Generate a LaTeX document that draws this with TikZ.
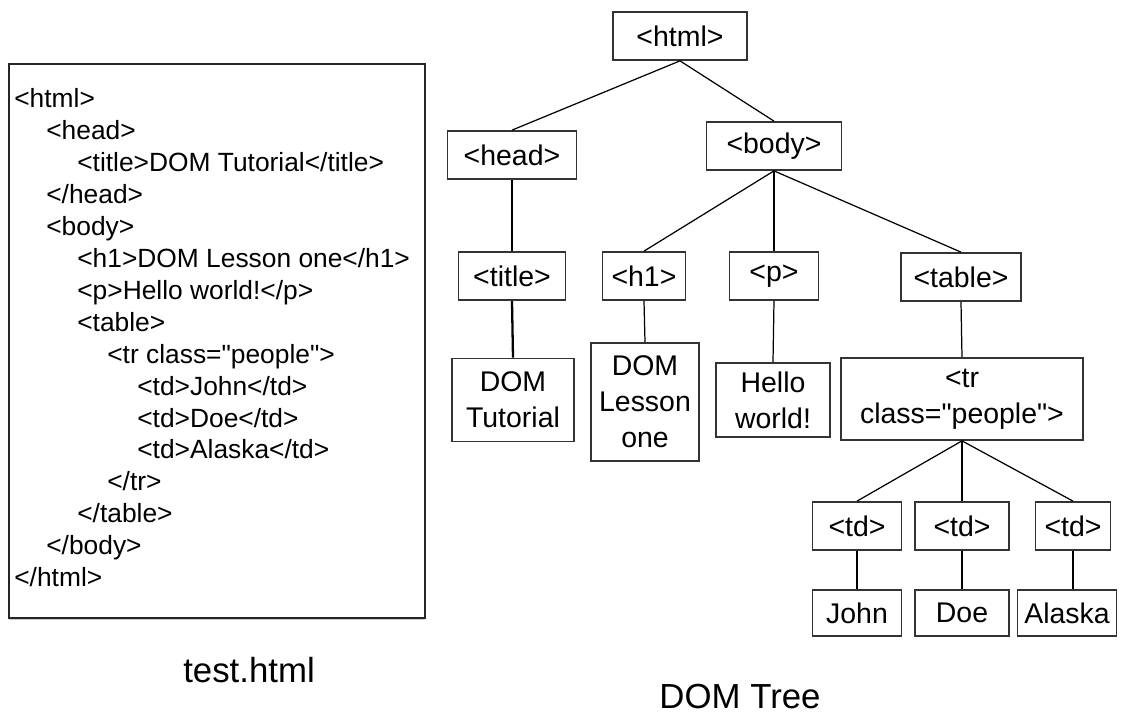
\documentclass[tikz,border=0pt]{standalone}
\usepackage{fontspec}
\setmainfont{Liberation Sans}[Ligatures=TeXOff]
\usetikzlibrary{shadows}

\begin{document}
\begin{tikzpicture}[x=0.02cm, y=-0.02cm,
  tag/.style={draw=black!80, line width=1pt, inner sep=0pt, minimum height=0.96cm,
    align=center, fill=white, font=\fontsize{16.2}{20.5}\selectfont},
  src/.style={anchor=base west, inner sep=0pt, font=\fontsize{15}{17}\selectfont},
  edge/.style={line width=0.7pt},
  caption/.style={anchor=base, inner sep=0pt, font=\fontsize{19.8}{22}\selectfont}]
\useasboundingbox (0,0) rectangle (1127,713);

% source file
\node[draw=black!85, line width=0.9pt, minimum width=8.32cm, minimum height=11.08cm,
  drop shadow={shadow xshift=0pt, shadow yshift=-0.05cm, fill=black!40}, fill=white]
  (file) at (217,341) {};
\node[src] (l1) at (14,108) {<html>};
\node[src] (l2) at (46,139.9) {<head>};
\node[src] (l3) at (77,171.8) {<title>DOM Tutorial</title>};
\node[src] (l4) at (46,203.7) {</head>};
\node[src] (l5) at (46,235.6) {<body>};
\node[src] (l6) at (77,267.5) {<h1>DOM Lesson one</h1>};
\node[src] (l7) at (77,299.4) {<p>Hello world!</p>};
\node[src] (l8) at (77,331.3) {<table>};
\node[src] (l9) at (107,363.2) {<tr class="people">};
\node[src] (l10) at (137,395.1) {<td>John</td>};
\node[src] (l11) at (137,427) {<td>Doe</td>};
\node[src] (l12) at (137,458.9) {<td>Alaska</td>};
\node[src] (l13) at (107,490.8) {</tr>};
\node[src] (l14) at (77,522.7) {</table>};
\node[src] (l15) at (46,554.6) {</body>};
\node[src] (l16) at (14,586.5) {</html>};
\node[caption] (filename) at (249,682) {test.html};

% DOM tree
\node[tag, minimum width=2.68cm] (html) at (680,36) {<html>};
\node[tag, minimum width=2.58cm] (head) at (512,155) {<head>};
\node[tag, minimum width=2.70cm] (body) at (774,146) {<body>};
\node[tag, minimum width=2.14cm] (title) at (512,276) {<title>};
\node[tag, minimum width=1.66cm] (h1) at (644,276) {<h1>};
\node[tag, minimum width=1.78cm] (p) at (774,276) {<p>};
\node[tag, minimum width=2.40cm] (table) at (961,277) {<table>};
\node[tag, minimum width=2.44cm, minimum height=1.66cm] (tutorial) at (513,400) {DOM\\Tutorial};
\node[tag, minimum width=2.16cm, minimum height=2.36cm] (lesson) at (645,402) {DOM\\Lesson\\one};
\node[tag, minimum width=2.28cm, minimum height=1.48cm] (hello) at (773,400) {Hello\\world!};
\node[tag, minimum width=4.84cm, minimum height=1.64cm] (tr) at (962,399) {<tr\\class="people">};
\node[tag, minimum width=1.78cm] (td1) at (857,526) {<td>};
\node[tag, minimum width=1.88cm] (td2) at (962,526) {<td>};
\node[tag, minimum width=1.50cm] (td3) at (1073,526) {<td>};
\node[tag, minimum width=1.78cm, minimum height=0.92cm] (john) at (857,613) {John};
\node[tag, minimum width=1.88cm, minimum height=0.92cm] (doe) at (962,613) {Doe};
\node[tag, minimum width=1.98cm, minimum height=0.92cm] (alaska) at (1067,613) {Alaska};
\node[caption] (treename) at (740,708) {DOM Tree};

\draw[edge] (html.south) -- (head.north);
\draw[edge] (html.south) -- (body.north);
\draw[edge, line width=1.3pt] (head.south) -- (title.north);
\draw[edge, line width=1.3pt] (title.south) -- (tutorial.north);
\draw[edge] (body.south) -- (h1.north);
\draw[edge] (body.south) -- (p.north);
\draw[edge] (body.south) -- (table.north);
\draw[edge] (h1.south) -- (lesson.north);
\draw[edge] (p.south) -- (hello.north);
\draw[edge] (table.south) -- (tr.north);
\draw[edge] (tr.south) -- (td1.north);
\draw[edge] (tr.south) -- (td2.north);
\draw[edge] (tr.south) -- (td3.north);
\draw[edge] (td1.south) -- (john.north);
\draw[edge] (td2.south) -- (doe.north);
\draw[edge] (td3.south) -- (td3.south |- alaska.north);
\end{tikzpicture}
\end{document}
